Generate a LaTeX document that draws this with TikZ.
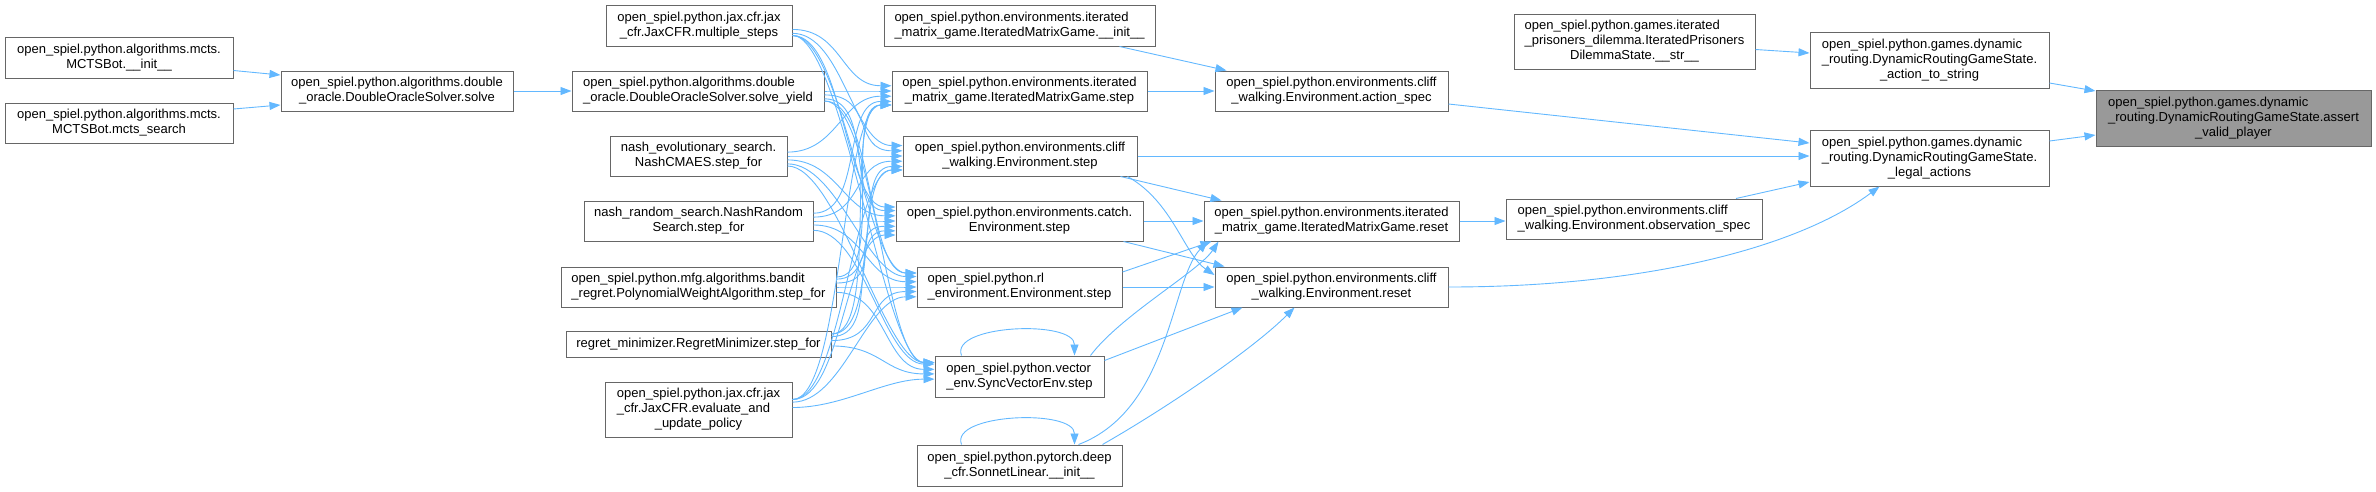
\documentclass[tikz,border=0pt]{standalone}
\usepackage{fontspec}
\setmainfont{Liberation Sans}
\usetikzlibrary{arrows.meta,calc}
\definecolor{edgec}{HTML}{63B8FF}
\definecolor{bordc}{HTML}{666666}
\definecolor{hlc}{HTML}{999999}
\newcommand{\twol}[2]{\begin{tabular}{@{}l@{}}#1\\\multicolumn{1}{@{}c@{}}{#2}\end{tabular}}
\newcommand{\threel}[3]{\begin{tabular}{@{}l@{}}#1\\#2\\\multicolumn{1}{@{}c@{}}{#3}\end{tabular}}
\tikzset{
 fn/.style={draw=bordc, fill=white, line width=1pt, inner sep=0pt, font=\fontsize{13}{15}\selectfont},
 hl/.style={fn, fill=hlc},
 conn/.style={draw=edgec, line width=0.9pt, -{Triangle[length=11pt,width=8pt]}},
}
\begin{document}
\begin{tikzpicture}[x=1pt,y=-1pt]
\useasboundingbox (0,0) rectangle (2376,491);
% column 1
\node[fn,minimum width=228pt,minimum height=41pt] (mi) at (119,57.5) {\twol{open\_spiel.python.algorithms.mcts.}{MCTSBot.\_\_init\_\_}};
\node[fn,minimum width=228pt,minimum height=40pt] (ms) at (119,123) {\twol{open\_spiel.python.algorithms.mcts.}{MCTSBot.mcts\_search}};
% column 2
\node[fn,minimum width=232pt,minimum height=40pt] (solve) at (397,91) {\twol{open\_spiel.python.algorithms.double}{\_oracle.DoubleOracleSolver.solve}};
% column 3
\node[fn,minimum width=186pt,minimum height=41pt] (msteps) at (699,25.5) {\twol{open\_spiel.python.jax.cfr.jax}{\_cfr.JaxCFR.multiple\_steps}};
\node[fn,minimum width=252pt,minimum height=40pt] (sy) at (698,91) {\twol{open\_spiel.python.algorithms.double}{\_oracle.DoubleOracleSolver.solve\_yield}};
\node[fn,minimum width=177pt,minimum height=40pt] (ne) at (698.5,156) {\twol{nash\_evolutionary\_search.}{NashCMAES.step\_for}};
\node[fn,minimum width=229pt,minimum height=40pt] (nr) at (698.5,221) {\twol{nash\_random\_search.NashRandom}{Search.step\_for}};
\node[fn,minimum width=275pt,minimum height=40pt] (bw) at (698.5,287) {\twol{open\_spiel.python.mfg.algorithms.bandit}{\_regret.PolynomialWeightAlgorithm.step\_for}};
\node[fn,minimum width=265pt,minimum height=26pt] (rm) at (698.5,344) {regret\_minimizer.RegretMinimizer.step\_for};
\node[fn,minimum width=187pt,minimum height=55pt] (ev) at (698.5,409.5) {\threel{open\_spiel.python.jax.cfr.jax}{\_cfr.JaxCFR.evaluate\_and}{\_update\_policy}};
% column 4
\node[fn,minimum width=271pt,minimum height=41pt] (imgi) at (1019.5,25.5) {\twol{open\_spiel.python.environments.iterated}{\_matrix\_game.IteratedMatrixGame.\_\_init\_\_}};
\node[fn,minimum width=255pt,minimum height=40pt] (imgs) at (1019.5,91) {\twol{open\_spiel.python.environments.iterated}{\_matrix\_game.IteratedMatrixGame.step}};
\node[fn,minimum width=234pt,minimum height=40pt] (cs) at (1020,156) {\twol{open\_spiel.python.environments.cliff}{\_walking.Environment.step}};
\node[fn,minimum width=247pt,minimum height=40pt] (cas) at (1019.5,221) {\twol{open\_spiel.python.environments.catch.}{Environment.step}};
\node[fn,minimum width=205pt,minimum height=40pt] (rls) at (1019.5,287) {\twol{open\_spiel.python.rl}{\_environment.Environment.step}};
\node[fn,minimum width=169pt,minimum height=41pt] (sve) at (1019.5,376.5) {\twol{open\_spiel.python.vector}{\_env.SyncVectorEnv.step}};
\node[fn,minimum width=205pt,minimum height=41pt] (sl) at (1019.5,465.5) {\twol{open\_spiel.python.pytorch.deep}{\_cfr.SonnetLinear.\_\_init\_\_}};
% column 5
\node[fn,minimum width=233pt,minimum height=40pt] (as) at (1331.5,91) {\twol{open\_spiel.python.environments.cliff}{\_walking.Environment.action\_spec}};
\node[fn,minimum width=255pt,minimum height=40pt] (imgr) at (1331.5,221) {\twol{open\_spiel.python.environments.iterated}{\_matrix\_game.IteratedMatrixGame.reset}};
\node[fn,minimum width=233pt,minimum height=40pt] (cr) at (1331.5,287) {\twol{open\_spiel.python.environments.cliff}{\_walking.Environment.reset}};
% column 6
\node[fn,minimum width=241pt,minimum height=55pt] (pd) at (1634.5,41.5) {\threel{open\_spiel.python.games.iterated}{\_prisoners\_dilemma.IteratedPrisoners}{DilemmaState.\_\_str\_\_}};
\node[fn,minimum width=256pt,minimum height=40pt] (os) at (1634,219) {\twol{open\_spiel.python.environments.cliff}{\_walking.Environment.observation\_spec}};
% column 7
\node[fn,minimum width=239pt,minimum height=56pt] (ats) at (1929.5,60) {\threel{open\_spiel.python.games.dynamic}{\_routing.DynamicRoutingGameState.}{\_action\_to\_string}};
\node[fn,minimum width=239pt,minimum height=56pt] (la) at (1929.5,158) {\threel{open\_spiel.python.games.dynamic}{\_routing.DynamicRoutingGameState.}{\_legal\_actions}};
% column 8
\node[hl,minimum width=275pt,minimum height=56pt] (avp) at (2233.5,118) {\threel{open\_spiel.python.games.dynamic}{\_routing.DynamicRoutingGameState.assert}{\_valid\_player}};

% edges
\draw[conn] ($(mi.east)+(0,13)$) -- ($(solve.west)+(0,-16)$);
\draw[conn] ($(ms.east)+(0,-14)$) -- ($(solve.west)+(0,14)$);
\draw[conn] (solve) -- (sy);
\foreach \s in {msteps,sy,ne,nr,bw,rm,ev}{
 \foreach \t in {imgs,cs,cas,rls,sve}{
  \draw[conn] let \p1=(\s.east), \p2=(\t.west),
     \n1={max(-10pt,min(10pt,(\y2-\y1)*0.06))},
     \n2={max(-14pt,min(14pt,(\y2-\y1)*0.08))} in
     (\x1,\y1+\n1) .. controls (\x1+50pt,\y1+\n1) and (\x2-50pt,\y2-\n2) .. (\x2,\y2-\n2);
 }
}
\draw[conn] ($(imgi.south)+(100,0)$) -- ($(as.north west)+(12,0)$);
\draw[conn] (imgs) -- (as);
\draw[conn] ($(as.east)+(0,13)$) -- ($(la.west)+(0,-15)$);
\draw[conn] (cs.east) -- (cs.east -| la.west);
\draw[conn] ($(os.north)+(102,0)$) -- ($(la.west)+(0,24)$);
\draw[conn] (cr.east) .. controls +(200,0) and +(-80,60) .. ($(la.south)+(-50,0)$);
\draw[conn] (imgr.east) -- (imgr.east -| os.west);
\draw[conn] ($(pd.east)+(0,8)$) -- ($(ats.west)+(0,-7)$);
\draw[conn] ($(ats.east)+(0,23)$) -- ($(avp.west)+(0,-27)$);
\draw[conn] ($(la.east)+(0,-17)$) -- ($(avp.west)+(0,17)$);
% step -> reset
\draw[conn] ($(cs.south east)+(-17,0)$) -- ($(imgr.north west)+(18,0)$);
\draw[conn] ($(cs.south east)+(-10,0)$) .. controls +(45,25) and +(-30,-20) .. ($(cr.west)+(0,-12)$);
\draw[conn] (cas.east) -- (cas.east -| imgr.west);
\draw[conn] ($(cas.south east)+(-20,0)$) -- ($(cr.north west)+(10,0)$);
\draw[conn] ($(rls.east)+(0,-15)$) -- ($(imgr.south west)+(8,0)$);
\draw[conn] (rls.east) -- (rls.east -| cr.west);
\draw[conn] ($(sve.north east)+(-14,0)$) .. controls +(30,-40) and +(-20,30) .. ($(imgr.south west)+(15,0)$);
\draw[conn] ($(sve.north east)+(0,5)$) -- ($(cr.south west)+(28,0)$);
\draw[conn] ($(sl.north east)+(-44,0)$) .. controls +(92,-35) and +(-37,39) .. ($(imgr.south west)+(4,0)$);
\draw[conn] ($(sl.north east)+(-20,0)$) .. controls +(70,-40) and +(-40,40) .. ($(cr.south west)+(80,0)$);
% self loops
\draw[conn] ($(sve.north west)+(27,0)$) .. controls +(-12,-31) and +(0,-36) .. ($(sve.north east)+(-30,0)$);
\draw[conn] ($(sl.north west)+(45,0)$) .. controls +(-12,-31) and +(0,-36) .. ($(sl.north east)+(-48,0)$);
\end{tikzpicture}
\end{document}
